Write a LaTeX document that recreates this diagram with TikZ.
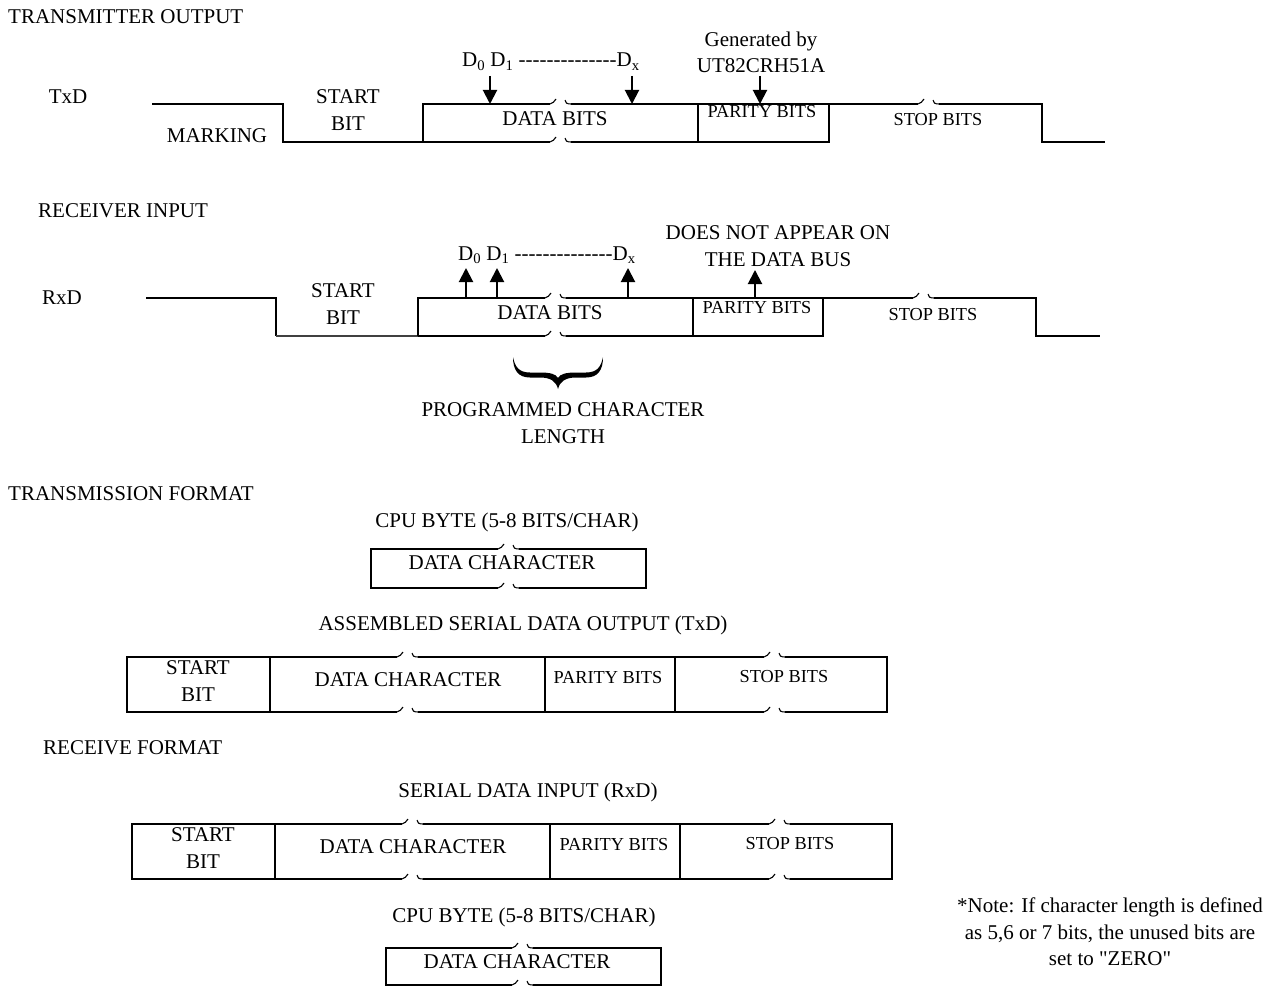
\documentclass[tikz,border=0pt]{standalone}
\usepackage{fontspec}
\setmainfont{Liberation Serif}
\newfontfamily\rawfont{Liberation Serif}
\usetikzlibrary{arrows.meta}
\newcommand\dshs{-{}-{}-{}-{}-{}-{}-{}-{}-{}-{}-{}-{}-{}-{}}
\newcommand\brk[2]{%
 \draw[hk] ({#1-11},{#2}) .. controls ({#1-8},{#2}) and ({#1-7},{#2-3}) .. ({#1-5},{#2-5});
 \draw[hk] ({#1+4},{#2-4}) .. controls ({#1+4},{#2-1}) and ({#1+6},{#2}) .. ({#1+10},{#2});}
\tikzset{
 wv/.style={line width=2pt},
 thin wv/.style={line width=1.2pt, black!75},
 hk/.style={line width=1.1pt},
 thickbox/.style={line width=2.6pt},
 tx/.style={inner sep=0pt, anchor=base, font=\fontsize{21}{25}\selectfont},
 txw/.style={tx, anchor=base west},
 mid/.style={inner sep=0pt, anchor=base, font=\fontsize{18.3}{22}\selectfont},
 arr/.style={line width=2pt, -{Triangle[width=14pt,length=14pt]}},
}
\begin{document}
\begin{tikzpicture}[x=1pt,y=-1pt]
\useasboundingbox (0,0) rectangle (1277,987);

% ---------------- TRANSMITTER OUTPUT ----------------
\node[txw] (ttitle) at (8,24) {TRANSMITTER OUTPUT};
\node[tx] (txd) at (68,104) {TxD};
\node[txw] (tdlab) at (462,67) {D\textsubscript{0} D\textsubscript{1} \dshs D\textsubscript{x}};
\node[tx] (gen1) at (761,47) {Generated by};
\node[tx] (gen2) at (761,73) {UT82CRH51A};
\node[tx] (tstart1) at (348,104) {START};
\node[tx] (tstart2) at (348,131) {BIT};
\node[tx] (tmark) at (217,143) {MARKING};
\node[tx] (tdata) at (555,126) {DATA BITS};
\node[mid] (tpar) at (762,118) {PARITY BITS};
\node[mid] (tstop) at (938,126) {STOP BITS};

\draw[wv] (152,104) -- (283,104) -- (283,142) -- (550,142);
\draw[wv] (571,142) -- (829,142) -- (829,104);
\draw[wv] (423,142) -- (423,104) -- (550,104);
\draw[wv] (571,104) -- (918,104);
\draw[wv] (939,104) -- (1042,104) -- (1042,142) -- (1105,142);
\draw[wv] (698,104) -- (698,142);
\brk{561}{104}
\brk{561}{142}
\brk{929}{104}

\coordinate (ta0s) at (490,76); \coordinate (ta0e) at (490,104);
\coordinate (taxs) at (632,76); \coordinate (taxe) at (632,104);
\coordinate (taps) at (760,76); \coordinate (tape) at (760,104);
\draw[arr] (ta0s) -- (ta0e);
\draw[arr] (taxs) -- (taxe);
\draw[arr] (taps) -- (tape);

% ---------------- RECEIVER INPUT ----------------
\node[txw] (rtitle) at (38,218) {RECEIVER INPUT};
\node[tx] (rxd) at (62,304) {RxD};
\node[txw] (rdlab) at (458,260) {D\textsubscript{0} D\textsubscript{1} \dshs D\textsubscript{x}};
\node[tx] (dna1) at (778,240) {DOES NOT APPEAR ON};
\node[tx] (dna2) at (778,266) {THE DATA BUS};
\node[tx] (rstart1) at (343,297) {START};
\node[tx] (rstart2) at (343,324) {BIT};
\node[tx] (rdata) at (550,319) {DATA BITS};
\node[mid] (rpar) at (757,313) {PARITY BITS};
\node[mid] (rstop) at (933,320) {STOP BITS};

\draw[wv] (146,298) -- (276,298) -- (276,336);
\draw[thin wv] (276,336) -- (418,336);
\draw[wv] (418,336) -- (545,336);
\draw[wv] (566,336) -- (823,336) -- (823,298);
\draw[wv] (418,336) -- (418,298) -- (545,298);
\draw[wv] (566,298) -- (913,298);
\draw[wv] (934,298) -- (1036,298) -- (1036,336) -- (1100,336);
\draw[wv] (693,298) -- (693,336);
\brk{556}{298}
\brk{556}{336}
\brk{924}{298}

\coordinate (ra0s) at (466,298); \coordinate (ra0e) at (466,268);
\coordinate (ra1s) at (497,298); \coordinate (ra1e) at (497,268);
\coordinate (raxs) at (628,298); \coordinate (raxe) at (628,268);
\coordinate (raps) at (755,298); \coordinate (rape) at (755,270);
\draw[arr] (ra0s) -- (ra0e);
\draw[arr] (ra1s) -- (ra1e);
\draw[arr] (raxs) -- (raxe);
\draw[arr] (raps) -- (rape);

% brace
\fill (513,357) .. controls (513,370) and (518,377.5) .. (530,377.5) -- (540,377.5)
  .. controls (550,377.5) and (556,381) .. (558,389)
  .. controls (560,381) and (566,377.5) .. (576,377.5) -- (586,377.5)
  .. controls (598,377.5) and (603,370) .. (603,357)
  .. controls (601,367) and (597,372.5) .. (586,372.5) -- (576,372.5)
  .. controls (566,372.5) and (560,374) .. (558,378)
  .. controls (556,374) and (550,372.5) .. (540,372.5) -- (530,372.5)
  .. controls (519,372.5) and (515,367) .. (513,357) -- cycle;
\node[tx] (pcl1) at (563,416) {PROGRAMMED CHARACTER};
\node[tx] (pcl2) at (563,443) {LENGTH};

% ---------------- TRANSMISSION FORMAT ----------------
\node[txw] (tftitle) at (8,500) {TRANSMISSION FORMAT};
\node[tx] (cpu1) at (507,527) {CPU BYTE (5-8 BITS/CHAR)};
\draw[wv] (498,549) -- (371,549) -- (371,588) -- (498,588);
\draw[wv] (519,549) -- (646,549) -- (646,588) -- (519,588);
\brk{509}{549}
\brk{509}{588}
\node[tx] (dc1) at (502,569) {DATA CHARACTER};

\node[tx] (asm) at (523,630) {ASSEMBLED SERIAL DATA OUTPUT (TxD)};
\draw[wv] (397,657) -- (127,657) -- (127,712) -- (397,712);
\draw[wv] (418,657) -- (764,657);
\draw[wv] (418,712) -- (764,712);
\draw[wv] (785,657) -- (887,657) -- (887,712) -- (785,712);
\draw[wv] (270,657) -- (270,712);
\draw[thickbox] (545,657) rectangle (675,712);
\brk{408}{657}
\brk{408}{712}
\brk{775}{657}
\brk{775}{712}
\node[tx] (ts1) at (198,674) {START};
\node[tx] (ts2) at (198,701) {BIT};
\node[tx] (tdc) at (408,686) {DATA CHARACTER};
\node[mid] (tpb) at (608,683) {PARITY BITS};
\node[mid] (tsb) at (784,682) {STOP BITS};

% ---------------- RECEIVE FORMAT ----------------
\node[txw] (rftitle) at (43,754) {RECEIVE FORMAT};
\node[tx] (sdi) at (528,797) {SERIAL DATA INPUT (RxD)};
\draw[wv] (402,824) -- (132,824) -- (132,879) -- (402,879);
\draw[wv] (423,824) -- (769,824);
\draw[wv] (423,879) -- (769,879);
\draw[wv] (790,824) -- (892,824) -- (892,879) -- (790,879);
\draw[wv] (275,824) -- (275,879);
\draw[thickbox] (550,824) rectangle (680,879);
\brk{413}{824}
\brk{413}{879}
\brk{780}{824}
\brk{780}{879}
\node[tx] (rs1) at (203,841) {START};
\node[tx] (rs2) at (203,868) {BIT};
\node[tx] (rdc) at (413,853) {DATA CHARACTER};
\node[mid] (rpb) at (614,850) {PARITY BITS};
\node[mid] (rsb) at (790,849) {STOP BITS};

\node[tx] (cpu2) at (524,922) {CPU BYTE (5-8 BITS/CHAR)};
\draw[wv] (512,948) -- (386,948) -- (386,985) -- (512,985);
\draw[wv] (533,948) -- (661,948) -- (661,985) -- (533,985);
\brk{523}{948}
\brk{523}{985}
\node[tx] (dc2) at (517,968) {DATA CHARACTER};

\node[tx] (note1) at (1110,912) {*Note: If character length is defined};
\node[tx] (note2) at (1110,939) {as 5,6 or 7 bits, the unused bits are};
\node[tx] (note3) at (1110,965) {set to {\rawfont "ZERO"}};
\end{tikzpicture}
\end{document}
